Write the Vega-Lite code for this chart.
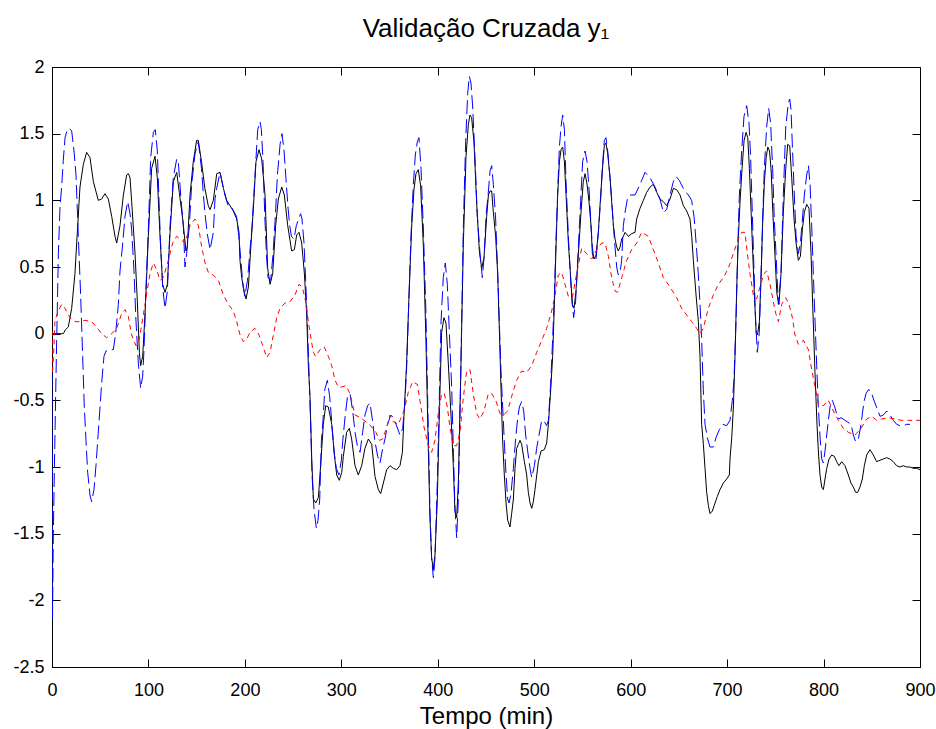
{
  "$schema": "https://vega.github.io/schema/vega-lite/v6.json",
  "width": 868,
  "height": 600,
  "autosize": "none",
  "padding": {"left": 52, "top": 67, "right": 16, "bottom": 62},
  "background": "white",
  "title": {"text": "Validação Cruzada y₁", "font": "Liberation Sans", "fontSize": 26, "fontWeight": "normal", "color": "black", "offset": 16, "anchor": "middle"},
  "config": {"view": {"stroke": "black", "strokeWidth": 1}, "axis": {"grid": false, "domainColor": "black", "tickColor": "black", "tickWidth": 1, "labelColor": "black", "labelFont": "Liberation Sans", "labelFontSize": 18, "titleFont": "Liberation Sans", "titleColor": "black"}},
  "datasets": {
    "black": [{"t":0,"v":0},{"t":5,"v":0},{"t":10,"v":0},{"t":11.7,"v":0},{"t":14,"v":0.03},{"t":16.9,"v":0.05},{"t":20.4,"v":0.19},{"t":23.8,"v":0.45},{"t":25.6,"v":0.68},{"t":29,"v":1.1},{"t":32.5,"v":1.27},{"t":35.9,"v":1.36},{"t":39.4,"v":1.32},{"t":42.9,"v":1.14},{"t":48,"v":1.0},{"t":51.5,"v":1.01},{"t":54.9,"v":1.05},{"t":58.4,"v":1.01},{"t":61.9,"v":0.88},{"t":65.3,"v":0.73},{"t":67.1,"v":0.68},{"t":70.5,"v":0.81},{"t":74,"v":1.04},{"t":77.4,"v":1.19},{"t":79.2,"v":1.2},{"t":80.9,"v":1.17},{"t":82.6,"v":0.99},{"t":86.1,"v":0.6},{"t":88.5,"v":0.24},{"t":90.6,"v":-0.14},{"t":91.9,"v":-0.24},{"t":94,"v":-0.17},{"t":96.4,"v":0.14},{"t":99.9,"v":0.73},{"t":103.3,"v":1.24},{"t":106.8,"v":1.33},{"t":109.2,"v":1.17},{"t":112,"v":0.73},{"t":114.7,"v":0.37},{"t":117.2,"v":0.31},{"t":119.6,"v":0.37},{"t":122.4,"v":0.76},{"t":125.8,"v":1.14},{"t":129.3,"v":1.21},{"t":132,"v":1.06},{"t":135.5,"v":0.86},{"t":138.9,"v":0.62},{"t":140.3,"v":0.65},{"t":143.1,"v":1.04},{"t":146.5,"v":1.29},{"t":150,"v":1.45},{"t":151.7,"v":1.45},{"t":155,"v":1.29},{"t":158.5,"v":1.09},{"t":162,"v":0.96},{"t":163.9,"v":0.93},{"t":167.3,"v":1.0},{"t":170.8,"v":1.2},{"t":174.2,"v":1.21},{"t":177.7,"v":1.09},{"t":181.1,"v":1.0},{"t":184.6,"v":0.96},{"t":188,"v":0.92},{"t":191.5,"v":0.86},{"t":193.9,"v":0.76},{"t":194.9,"v":0.55},{"t":196.7,"v":0.42},{"t":199.4,"v":0.31},{"t":201.2,"v":0.26},{"t":203.6,"v":0.35},{"t":206.4,"v":0.68},{"t":208.8,"v":0.94},{"t":211.5,"v":1.29},{"t":214.7,"v":1.38},{"t":217.4,"v":1.31},{"t":220.9,"v":1.04},{"t":223.6,"v":0.49},{"t":226.1,"v":0.37},{"t":228.8,"v":0.45},{"t":231.9,"v":0.81},{"t":234.7,"v":1.01},{"t":238.2,"v":1.1},{"t":240.9,"v":1.04},{"t":244.4,"v":0.81},{"t":248.5,"v":0.62},{"t":251.3,"v":0.63},{"t":253.7,"v":0.74},{"t":256.1,"v":0.76},{"t":258.9,"v":0.68},{"t":261.7,"v":0.45},{"t":264.1,"v":0.14},{"t":265.8,"v":-0.24},{"t":267.5,"v":-0.47},{"t":269.3,"v":-0.94},{"t":271,"v":-1.24},{"t":273.4,"v":-1.27},{"t":276.2,"v":-1.23},{"t":279,"v":-0.94},{"t":281.3,"v":-0.68},{"t":283.8,"v":-0.54},{"t":286.5,"v":-0.55},{"t":290,"v":-0.68},{"t":292.8,"v":-0.91},{"t":295.2,"v":-1.06},{"t":297.9,"v":-1.1},{"t":300.4,"v":-1.04},{"t":302.1,"v":-0.92},{"t":305.5,"v":-0.74},{"t":308.3,"v":-0.71},{"t":310.7,"v":-0.79},{"t":314.2,"v":-0.99},{"t":317.6,"v":-1.06},{"t":321.1,"v":-0.99},{"t":324.5,"v":-0.86},{"t":328,"v":-0.79},{"t":331.5,"v":-0.83},{"t":334.9,"v":-1.07},{"t":338.4,"v":-1.17},{"t":340.8,"v":-1.2},{"t":343.6,"v":-1.12},{"t":347,"v":-1.02},{"t":350.5,"v":-0.99},{"t":353.9,"v":-1.01},{"t":357.4,"v":-1.02},{"t":360.8,"v":-0.99},{"t":363.3,"v":-0.89},{"t":365,"v":-0.61},{"t":367.7,"v":-0.22},{"t":370.2,"v":0.29},{"t":372.9,"v":0.8},{"t":375.3,"v":1.08},{"t":377.4,"v":1.2},{"t":379.8,"v":1.23},{"t":382.2,"v":1.11},{"t":385,"v":0.67},{"t":387.7,"v":-0.04},{"t":390.2,"v":-0.86},{"t":391.9,"v":-1.38},{"t":393.6,"v":-1.68},{"t":395.4,"v":-1.77},{"t":397.1,"v":-1.66},{"t":399.5,"v":-1.25},{"t":401.6,"v":-0.61},{"t":404,"v":0.01},{"t":406.4,"v":0.12},{"t":408.5,"v":0.08},{"t":410.9,"v":-0.22},{"t":413.7,"v":-0.61},{"t":416.1,"v":-0.99},{"t":417.8,"v":-1.33},{"t":419.6,"v":-1.38},{"t":421.3,"v":-1.12},{"t":423.7,"v":-0.35},{"t":426.5,"v":0.67},{"t":429.2,"v":1.32},{"t":431.7,"v":1.57},{"t":433.4,"v":1.64},{"t":435.1,"v":1.62},{"t":437.5,"v":1.44},{"t":440.3,"v":0.98},{"t":443.1,"v":0.62},{"t":445.5,"v":0.49},{"t":447.9,"v":0.57},{"t":450.7,"v":0.88},{"t":452.5,"v":1.04},{"t":454.2,"v":1.07},{"t":455.9,"v":1.07},{"t":457.6,"v":0.91},{"t":460,"v":0.73},{"t":462.1,"v":0.45},{"t":463.8,"v":0.04},{"t":465.6,"v":-0.42},{"t":467.3,"v":-0.81},{"t":469,"v":-1.06},{"t":470.8,"v":-1.27},{"t":472.5,"v":-1.4},{"t":474.9,"v":-1.45},{"t":476.6,"v":-1.35},{"t":478.4,"v":-1.24},{"t":480.1,"v":-1.01},{"t":481.8,"v":-0.86},{"t":483.6,"v":-0.83},{"t":485.3,"v":-0.8},{"t":487,"v":-0.83},{"t":489.8,"v":-0.96},{"t":492.2,"v":-1.06},{"t":493.9,"v":-1.19},{"t":495.7,"v":-1.27},{"t":497.4,"v":-1.31},{"t":499.1,"v":-1.26},{"t":500.8,"v":-1.17},{"t":504.3,"v":-0.96},{"t":507.1,"v":-0.88},{"t":510.5,"v":-0.87},{"t":512.9,"v":-0.82},{"t":514.7,"v":-0.68},{"t":517.1,"v":-0.42},{"t":519.1,"v":-0.17},{"t":520.9,"v":0.22},{"t":522.6,"v":0.65},{"t":524.3,"v":1.04},{"t":526.1,"v":1.29},{"t":527.8,"v":1.38},{"t":529.5,"v":1.4},{"t":531.3,"v":1.29},{"t":533,"v":1.04},{"t":535.4,"v":0.68},{"t":537.8,"v":0.42},{"t":539.5,"v":0.22},{"t":541.3,"v":0.19},{"t":543.3,"v":0.32},{"t":545.8,"v":0.6},{"t":548.5,"v":0.91},{"t":550.9,"v":1.14},{"t":552.7,"v":1.2},{"t":554.8,"v":1.12},{"t":556.8,"v":0.99},{"t":558.9,"v":0.81},{"t":560.3,"v":0.6},{"t":562,"v":0.56},{"t":564.1,"v":0.59},{"t":566.5,"v":0.76},{"t":568.9,"v":1.04},{"t":570.6,"v":1.22},{"t":572.7,"v":1.41},{"t":574.4,"v":1.43},{"t":576.2,"v":1.35},{"t":578.6,"v":1.17},{"t":580.3,"v":0.99},{"t":582.1,"v":0.81},{"t":583.8,"v":0.71},{"t":585.5,"v":0.65},{"t":587.2,"v":0.62},{"t":589,"v":0.65},{"t":590.7,"v":0.71},{"t":592.4,"v":0.73},{"t":594.2,"v":0.76},{"t":597.6,"v":0.73},{"t":601.1,"v":0.75},{"t":604.5,"v":0.76},{"t":606.2,"v":0.86},{"t":609.7,"v":0.94},{"t":613.2,"v":1.0},{"t":616.6,"v":1.06},{"t":620.1,"v":1.1},{"t":623.5,"v":1.12},{"t":627,"v":1.06},{"t":630.4,"v":1.01},{"t":633.9,"v":0.99},{"t":637.3,"v":0.96},{"t":640.8,"v":1.01},{"t":644.3,"v":1.09},{"t":647.7,"v":1.08},{"t":651.2,"v":1.04},{"t":654.6,"v":0.96},{"t":658.1,"v":0.92},{"t":661.5,"v":0.86},{"t":663.3,"v":0.73},{"t":665,"v":0.55},{"t":667.8,"v":0.29},{"t":670.2,"v":0.09},{"t":671.9,"v":-0.17},{"t":673.6,"v":-0.68},{"t":675.4,"v":-0.83},{"t":677.1,"v":-1.01},{"t":678.8,"v":-1.19},{"t":680.6,"v":-1.29},{"t":682.3,"v":-1.35},{"t":684.7,"v":-1.33},{"t":687.5,"v":-1.27},{"t":689.9,"v":-1.22},{"t":692.6,"v":-1.17},{"t":696.1,"v":-1.12},{"t":699.6,"v":-1.09},{"t":702.3,"v":-1.06},{"t":703,"v":-0.94},{"t":704.8,"v":-0.78},{"t":706.5,"v":-0.55},{"t":708.2,"v":-0.17},{"t":710,"v":0.35},{"t":711.7,"v":0.73},{"t":713.4,"v":0.99},{"t":715.5,"v":1.24},{"t":717.6,"v":1.45},{"t":719.7,"v":1.51},{"t":721.4,"v":1.47},{"t":723.1,"v":1.24},{"t":724.9,"v":0.91},{"t":726.6,"v":0.6},{"t":728.3,"v":0.29},{"t":730.1,"v":0.01},{"t":731.4,"v":-0.01},{"t":733.5,"v":0.09},{"t":735.3,"v":0.45},{"t":737,"v":0.86},{"t":738.7,"v":1.14},{"t":740.5,"v":1.32},{"t":742.2,"v":1.4},{"t":744,"v":1.37},{"t":745.7,"v":1.22},{"t":747.4,"v":0.91},{"t":749.2,"v":0.65},{"t":751.6,"v":0.3},{"t":753.8,"v":0.22},{"t":755.9,"v":0.45},{"t":758.3,"v":0.91},{"t":760.8,"v":1.24},{"t":762.8,"v":1.42},{"t":764.9,"v":1.41},{"t":767,"v":1.17},{"t":769.4,"v":0.86},{"t":771.5,"v":0.68},{"t":773.9,"v":0.55},{"t":776,"v":0.58},{"t":778,"v":0.78},{"t":780.1,"v":0.91},{"t":782.5,"v":0.97},{"t":784.9,"v":0.94},{"t":787,"v":0.6},{"t":789.1,"v":0.14},{"t":791.1,"v":-0.29},{"t":793.2,"v":-0.68},{"t":794.6,"v":-0.88},{"t":796.3,"v":-1.06},{"t":798.1,"v":-1.15},{"t":799.8,"v":-1.17},{"t":801.5,"v":-1.09},{"t":803.3,"v":-1.01},{"t":805.7,"v":-0.94},{"t":808.4,"v":-0.91},{"t":811.2,"v":-0.92},{"t":813.6,"v":-0.96},{"t":816,"v":-0.99},{"t":818.8,"v":-0.96},{"t":822.2,"v":-0.99},{"t":825.7,"v":-1.06},{"t":828.4,"v":-1.12},{"t":830.9,"v":-1.15},{"t":833.3,"v":-1.19},{"t":835.4,"v":-1.19},{"t":837.8,"v":-1.15},{"t":840.2,"v":-1.09},{"t":842.3,"v":-0.99},{"t":844.7,"v":-0.91},{"t":848.1,"v":-0.87},{"t":851.6,"v":-0.91},{"t":855,"v":-0.96},{"t":858.5,"v":-0.95},{"t":861.9,"v":-0.94},{"t":865.4,"v":-0.93},{"t":868.8,"v":-0.94},{"t":872.3,"v":-0.96},{"t":875.7,"v":-0.99},{"t":879.2,"v":-1.0},{"t":882.6,"v":-0.99},{"t":886.1,"v":-1.0},{"t":889.5,"v":-1.0},{"t":893,"v":-1.01},{"t":896.4,"v":-1.01},{"t":900,"v":-1.02}],
    "blue": [{"t":0,"v":-0.3},{"t":0.5,"v":-2.15},{"t":1.4,"v":-1.5},{"t":2.5,"v":-1.0},{"t":4.2,"v":-0.3},{"t":6.6,"v":0.6},{"t":8.3,"v":0.95},{"t":10,"v":1.1},{"t":11.7,"v":1.3},{"t":13.5,"v":1.47},{"t":15.9,"v":1.53},{"t":18,"v":1.54},{"t":20.4,"v":1.52},{"t":22.8,"v":1.37},{"t":24.9,"v":1.19},{"t":27.3,"v":0.73},{"t":29.7,"v":0.29},{"t":31.8,"v":-0.17},{"t":33.5,"v":-0.55},{"t":35.3,"v":-0.81},{"t":37,"v":-1.04},{"t":39.4,"v":-1.21},{"t":41.1,"v":-1.26},{"t":43.5,"v":-1.17},{"t":45.6,"v":-0.99},{"t":47.3,"v":-0.81},{"t":49.8,"v":-0.55},{"t":51.5,"v":-0.37},{"t":53.9,"v":-0.17},{"t":56,"v":-0.13},{"t":60,"v":-0.12},{"t":63.6,"v":-0.12},{"t":66,"v":0.0},{"t":68.8,"v":0.22},{"t":70.5,"v":0.47},{"t":73,"v":0.65},{"t":75.7,"v":0.88},{"t":78.5,"v":0.99},{"t":80.9,"v":0.9},{"t":82.6,"v":0.78},{"t":85,"v":0.47},{"t":87.1,"v":0.09},{"t":89.5,"v":-0.22},{"t":91.9,"v":-0.41},{"t":94,"v":-0.32},{"t":95.4,"v":-0.12},{"t":97.5,"v":0.35},{"t":99.9,"v":0.78},{"t":102.3,"v":1.32},{"t":105.1,"v":1.51},{"t":107.1,"v":1.53},{"t":109.2,"v":1.37},{"t":112,"v":0.78},{"t":114.7,"v":0.35},{"t":117.2,"v":0.19},{"t":119.6,"v":0.32},{"t":122.4,"v":0.81},{"t":125.8,"v":1.17},{"t":129.3,"v":1.31},{"t":131,"v":1.29},{"t":133.4,"v":1.04},{"t":136.2,"v":0.81},{"t":137.9,"v":0.5},{"t":139.6,"v":0.6},{"t":142.4,"v":0.81},{"t":144.8,"v":1.12},{"t":148.3,"v":1.35},{"t":151.7,"v":1.44},{"t":155,"v":1.24},{"t":156.9,"v":1.05},{"t":158.5,"v":0.91},{"t":161,"v":0.75},{"t":163.9,"v":0.63},{"t":167.3,"v":0.76},{"t":169,"v":1.01},{"t":170.8,"v":1.09},{"t":174.2,"v":1.21},{"t":179.3,"v":1.04},{"t":182.6,"v":0.96},{"t":186,"v":0.95},{"t":191.3,"v":0.88},{"t":193.7,"v":0.73},{"t":195.8,"v":0.55},{"t":198.2,"v":0.35},{"t":199.9,"v":0.28},{"t":202.7,"v":0.4},{"t":205,"v":0.6},{"t":207.5,"v":0.81},{"t":210.5,"v":1.19},{"t":213.3,"v":1.53},{"t":215.7,"v":1.59},{"t":217.1,"v":1.53},{"t":218.8,"v":1.29},{"t":220.5,"v":0.91},{"t":222.3,"v":0.6},{"t":224,"v":0.42},{"t":226.8,"v":0.4},{"t":229.2,"v":0.6},{"t":231.6,"v":0.88},{"t":233.7,"v":1.19},{"t":236.5,"v":1.42},{"t":238.5,"v":1.5},{"t":240.6,"v":1.37},{"t":243,"v":1.12},{"t":244.8,"v":0.94},{"t":246.5,"v":0.81},{"t":248.2,"v":0.73},{"t":250.9,"v":0.71},{"t":253.3,"v":0.81},{"t":255.7,"v":0.86},{"t":257.8,"v":0.9},{"t":259.2,"v":0.86},{"t":261.3,"v":0.68},{"t":263,"v":0.4},{"t":264.7,"v":0.09},{"t":266.5,"v":-0.29},{"t":268.2,"v":-0.68},{"t":269.6,"v":-1.06},{"t":271.7,"v":-1.32},{"t":274.1,"v":-1.46},{"t":275.8,"v":-1.4},{"t":277.6,"v":-1.24},{"t":279.3,"v":-0.81},{"t":281,"v":-0.65},{"t":282.8,"v":-0.42},{"t":285.5,"v":-0.35},{"t":287.9,"v":-0.47},{"t":290.3,"v":-0.68},{"t":292.4,"v":-0.88},{"t":294.8,"v":-1.01},{"t":297.5,"v":-1.06},{"t":300,"v":-0.95},{"t":301.4,"v":-0.81},{"t":303.8,"v":-0.63},{"t":306.2,"v":-0.48},{"t":309,"v":-0.45},{"t":311.8,"v":-0.58},{"t":314.2,"v":-0.74},{"t":316.6,"v":-0.84},{"t":319.4,"v":-0.89},{"t":322.1,"v":-0.74},{"t":324.5,"v":-0.61},{"t":327.3,"v":-0.54},{"t":329.7,"v":-0.52},{"t":332.5,"v":-0.66},{"t":334.9,"v":-0.81},{"t":337.7,"v":-0.92},{"t":340.1,"v":-0.97},{"t":342.9,"v":-0.86},{"t":345.3,"v":-0.79},{"t":348,"v":-0.68},{"t":351.2,"v":-0.61},{"t":353.9,"v":-0.63},{"t":356.7,"v":-0.68},{"t":360.8,"v":-0.76},{"t":363.6,"v":-0.71},{"t":366,"v":-0.51},{"t":367.7,"v":-0.26},{"t":370.2,"v":0.29},{"t":372.2,"v":0.73},{"t":374.6,"v":1.11},{"t":376.7,"v":1.34},{"t":378.8,"v":1.44},{"t":380.5,"v":1.47},{"t":382.6,"v":1.24},{"t":385,"v":0.8},{"t":387.7,"v":0.16},{"t":390.2,"v":-0.74},{"t":391.9,"v":-1.33},{"t":393.6,"v":-1.68},{"t":395.4,"v":-1.83},{"t":397.1,"v":-1.68},{"t":399.5,"v":-1.12},{"t":401.6,"v":-0.48},{"t":403.3,"v":0.08},{"t":405.7,"v":0.42},{"t":407.8,"v":0.53},{"t":409.9,"v":0.37},{"t":412,"v":0.01},{"t":414.4,"v":-0.4},{"t":416.1,"v":-0.86},{"t":417.8,"v":-1.3},{"t":419.6,"v":-1.53},{"t":421.3,"v":-1.25},{"t":423.7,"v":-0.35},{"t":426.5,"v":0.8},{"t":428.9,"v":1.44},{"t":431,"v":1.8},{"t":432.7,"v":1.93},{"t":434.4,"v":1.88},{"t":436.2,"v":1.7},{"t":438.6,"v":1.32},{"t":441,"v":0.88},{"t":443.8,"v":0.6},{"t":446.2,"v":0.42},{"t":448.3,"v":0.6},{"t":450,"v":0.88},{"t":452.4,"v":1.06},{"t":454.2,"v":1.22},{"t":455.9,"v":1.26},{"t":457.6,"v":1.12},{"t":460,"v":0.86},{"t":462.1,"v":0.47},{"t":463.8,"v":0.09},{"t":465.6,"v":-0.29},{"t":467.3,"v":-0.55},{"t":469,"v":-0.81},{"t":470.8,"v":-1.06},{"t":472.5,"v":-1.24},{"t":473.9,"v":-1.27},{"t":475.9,"v":-1.2},{"t":478.4,"v":-1.01},{"t":480.8,"v":-0.78},{"t":482.9,"v":-0.63},{"t":484.6,"v":-0.55},{"t":487,"v":-0.51},{"t":489.1,"v":-0.58},{"t":491.1,"v":-0.76},{"t":493.2,"v":-0.88},{"t":495.7,"v":-1.01},{"t":497.4,"v":-1.08},{"t":500.2,"v":-0.99},{"t":502.5,"v":-0.86},{"t":505,"v":-0.76},{"t":507.8,"v":-0.65},{"t":510.5,"v":-0.66},{"t":512.9,"v":-0.69},{"t":514.7,"v":-0.65},{"t":517.1,"v":-0.37},{"t":519.1,"v":-0.04},{"t":520.9,"v":0.29},{"t":522.6,"v":0.71},{"t":524.3,"v":1.06},{"t":526.1,"v":1.4},{"t":527.8,"v":1.55},{"t":529.5,"v":1.64},{"t":531.3,"v":1.53},{"t":533,"v":1.14},{"t":535.4,"v":0.73},{"t":537.8,"v":0.4},{"t":539.5,"v":0.22},{"t":540.9,"v":0.12},{"t":542.9,"v":0.24},{"t":545.8,"v":0.65},{"t":548.1,"v":0.99},{"t":550.2,"v":1.29},{"t":552.7,"v":1.37},{"t":554.8,"v":1.29},{"t":556.8,"v":1.09},{"t":558.9,"v":0.81},{"t":560.3,"v":0.65},{"t":562,"v":0.55},{"t":564.1,"v":0.56},{"t":566.5,"v":0.76},{"t":568.9,"v":1.01},{"t":570.6,"v":1.24},{"t":572.7,"v":1.45},{"t":574.4,"v":1.47},{"t":576.2,"v":1.37},{"t":578.6,"v":1.17},{"t":580.3,"v":1.01},{"t":582.1,"v":0.81},{"t":583.8,"v":0.65},{"t":585.5,"v":0.5},{"t":587.2,"v":0.44},{"t":589,"v":0.46},{"t":590.7,"v":0.55},{"t":592.4,"v":0.81},{"t":594.2,"v":0.91},{"t":596.6,"v":1.01},{"t":599.3,"v":1.04},{"t":604.5,"v":1.04},{"t":609.7,"v":1.12},{"t":614.9,"v":1.21},{"t":620,"v":1.17},{"t":625.2,"v":1.1},{"t":630.4,"v":1.01},{"t":633.9,"v":0.91},{"t":637.3,"v":0.93},{"t":640.8,"v":1.04},{"t":644.2,"v":1.14},{"t":647,"v":1.18},{"t":650.4,"v":1.15},{"t":654.6,"v":1.09},{"t":659.8,"v":1.04},{"t":663.2,"v":1.0},{"t":665.7,"v":0.88},{"t":668.4,"v":0.63},{"t":670.1,"v":0.45},{"t":671.9,"v":0.22},{"t":673.6,"v":-0.04},{"t":675.3,"v":-0.42},{"t":677.1,"v":-0.68},{"t":679.5,"v":-0.78},{"t":682.2,"v":-0.85},{"t":685.7,"v":-0.85},{"t":688.5,"v":-0.78},{"t":691.9,"v":-0.72},{"t":695.4,"v":-0.68},{"t":699.5,"v":-0.69},{"t":703,"v":-0.65},{"t":705.4,"v":-0.5},{"t":707.1,"v":-0.35},{"t":709.2,"v":0.09},{"t":710.9,"v":0.6},{"t":712.7,"v":1.04},{"t":715.1,"v":1.37},{"t":717.5,"v":1.63},{"t":720.3,"v":1.71},{"t":722.7,"v":1.58},{"t":724.4,"v":1.32},{"t":726.1,"v":0.91},{"t":727.9,"v":0.47},{"t":729.6,"v":0.09},{"t":731.3,"v":-0.14},{"t":733.4,"v":0.01},{"t":735.1,"v":0.42},{"t":736.9,"v":0.86},{"t":738.6,"v":1.24},{"t":741,"v":1.55},{"t":743.1,"v":1.69},{"t":745.1,"v":1.58},{"t":747.2,"v":1.24},{"t":748.9,"v":0.86},{"t":750.7,"v":0.6},{"t":753.1,"v":0.22},{"t":755.9,"v":0.45},{"t":758.3,"v":1.04},{"t":760.8,"v":1.55},{"t":763.5,"v":1.73},{"t":764.9,"v":1.76},{"t":766.3,"v":1.68},{"t":767.7,"v":1.4},{"t":769.7,"v":1.04},{"t":771.5,"v":0.73},{"t":773.9,"v":0.6},{"t":776,"v":0.68},{"t":778.1,"v":0.86},{"t":780.1,"v":1.04},{"t":782.5,"v":1.19},{"t":784.3,"v":1.26},{"t":786,"v":1.12},{"t":787.7,"v":0.81},{"t":789.4,"v":0.45},{"t":791.2,"v":0.09},{"t":792.9,"v":-0.24},{"t":794.6,"v":-0.55},{"t":796.4,"v":-0.78},{"t":798.1,"v":-0.94},{"t":799.8,"v":-0.97},{"t":801.5,"v":-0.88},{"t":803.3,"v":-0.76},{"t":805,"v":-0.65},{"t":806.7,"v":-0.55},{"t":809.1,"v":-0.5},{"t":811.2,"v":-0.54},{"t":813.6,"v":-0.6},{"t":816,"v":-0.64},{"t":818.1,"v":-0.63},{"t":828.5,"v":-0.68},{"t":830.9,"v":-0.76},{"t":833.3,"v":-0.81},{"t":836.1,"v":-0.79},{"t":838.9,"v":-0.68},{"t":840.6,"v":-0.58},{"t":842.3,"v":-0.5},{"t":844,"v":-0.45},{"t":846.5,"v":-0.42},{"t":849.2,"v":-0.43},{"t":851.7,"v":-0.49},{"t":858.6,"v":-0.62},{"t":862,"v":-0.61},{"t":865.5,"v":-0.58},{"t":868.9,"v":-0.61},{"t":872.4,"v":-0.65},{"t":875.8,"v":-0.68},{"t":879.3,"v":-0.69},{"t":882.7,"v":-0.69},{"t":886.2,"v":-0.68},{"t":889.7,"v":-0.68}],
    "red": [{"t":0,"v":0.02},{"t":0.5,"v":-0.3},{"t":2,"v":-0.1},{"t":3.1,"v":0.1},{"t":6.6,"v":0.17},{"t":10,"v":0.22},{"t":13.5,"v":0.19},{"t":18.7,"v":0.12},{"t":23.8,"v":0.09},{"t":29,"v":0.09},{"t":34.2,"v":0.1},{"t":41.1,"v":0.09},{"t":46.3,"v":0.05},{"t":51.5,"v":0.0},{"t":56.7,"v":-0.03},{"t":61.9,"v":0.0},{"t":67.1,"v":0.04},{"t":72.2,"v":0.15},{"t":75.7,"v":0.18},{"t":79.1,"v":0.13},{"t":82.6,"v":-0.01},{"t":87.1,"v":-0.09},{"t":90.5,"v":-0.04},{"t":94.7,"v":0.14},{"t":98.2,"v":0.3},{"t":101.6,"v":0.45},{"t":105.1,"v":0.53},{"t":108.5,"v":0.48},{"t":112,"v":0.4},{"t":115.4,"v":0.42},{"t":120.6,"v":0.55},{"t":125.1,"v":0.68},{"t":129.3,"v":0.73},{"t":134.4,"v":0.7},{"t":137.9,"v":0.68},{"t":143.1,"v":0.81},{"t":148.3,"v":0.86},{"t":151.8,"v":0.81},{"t":155.2,"v":0.65},{"t":158.7,"v":0.53},{"t":162.1,"v":0.46},{"t":167.3,"v":0.44},{"t":172.5,"v":0.4},{"t":177.7,"v":0.29},{"t":182.9,"v":0.22},{"t":188,"v":0.17},{"t":191.5,"v":0.09},{"t":195,"v":-0.01},{"t":198.4,"v":-0.06},{"t":201.9,"v":-0.04},{"t":205.3,"v":0.01},{"t":210.5,"v":0.04},{"t":214.7,"v":-0.01},{"t":218.5,"v":-0.09},{"t":222.6,"v":-0.18},{"t":226.1,"v":-0.14},{"t":229.5,"v":-0.01},{"t":233,"v":0.12},{"t":236.4,"v":0.19},{"t":241.6,"v":0.23},{"t":246.8,"v":0.24},{"t":252,"v":0.29},{"t":256.1,"v":0.37},{"t":259.6,"v":0.35},{"t":263,"v":0.24},{"t":265.8,"v":0.09},{"t":268.6,"v":-0.04},{"t":271,"v":-0.14},{"t":273.4,"v":-0.17},{"t":277.9,"v":-0.12},{"t":282.4,"v":-0.1},{"t":286.5,"v":-0.17},{"t":290,"v":-0.24},{"t":293.5,"v":-0.35},{"t":296.9,"v":-0.4},{"t":300.5,"v":-0.4},{"t":304.8,"v":-0.39},{"t":309,"v":-0.45},{"t":314.2,"v":-0.61},{"t":320,"v":-0.63},{"t":329,"v":-0.68},{"t":335.9,"v":-0.74},{"t":339.4,"v":-0.8},{"t":342.8,"v":-0.79},{"t":346.3,"v":-0.72},{"t":350.4,"v":-0.61},{"t":353.9,"v":-0.66},{"t":359,"v":-0.68},{"t":365,"v":-0.58},{"t":369.4,"v":-0.44},{"t":373.9,"v":-0.36},{"t":378.8,"v":-0.38},{"t":381.5,"v":-0.5},{"t":385.7,"v":-0.7},{"t":390.2,"v":-0.84},{"t":393.6,"v":-0.89},{"t":397.1,"v":-0.8},{"t":400.5,"v":-0.6},{"t":404,"v":-0.45},{"t":406.8,"v":-0.45},{"t":409.9,"v":-0.55},{"t":412.6,"v":-0.7},{"t":416.1,"v":-0.84},{"t":419.6,"v":-0.84},{"t":423,"v":-0.74},{"t":426.5,"v":-0.48},{"t":429.9,"v":-0.28},{"t":433.4,"v":-0.27},{"t":436.8,"v":-0.45},{"t":440.3,"v":-0.6},{"t":443.8,"v":-0.64},{"t":447.9,"v":-0.58},{"t":452.4,"v":-0.45},{"t":455.9,"v":-0.45},{"t":460.1,"v":-0.5},{"t":464.6,"v":-0.6},{"t":468,"v":-0.61},{"t":472.5,"v":-0.58},{"t":476.6,"v":-0.47},{"t":481.8,"v":-0.35},{"t":487,"v":-0.28},{"t":492.2,"v":-0.29},{"t":497.4,"v":-0.24},{"t":502.6,"v":-0.14},{"t":507.8,"v":-0.05},{"t":512.9,"v":0.04},{"t":518.1,"v":0.17},{"t":521.6,"v":0.29},{"t":525,"v":0.44},{"t":528.5,"v":0.46},{"t":531.9,"v":0.37},{"t":535.4,"v":0.28},{"t":539.5,"v":0.27},{"t":544,"v":0.45},{"t":549.2,"v":0.64},{"t":554.4,"v":0.6},{"t":559.6,"v":0.56},{"t":564.8,"v":0.63},{"t":570,"v":0.68},{"t":573.4,"v":0.68},{"t":576.9,"v":0.58},{"t":580.3,"v":0.42},{"t":583.8,"v":0.32},{"t":586.5,"v":0.31},{"t":590.7,"v":0.42},{"t":595.9,"v":0.55},{"t":601,"v":0.63},{"t":606.2,"v":0.68},{"t":611.4,"v":0.76},{"t":618.3,"v":0.73},{"t":623.5,"v":0.63},{"t":628.7,"v":0.53},{"t":633.9,"v":0.42},{"t":640.8,"v":0.35},{"t":647.7,"v":0.27},{"t":652.9,"v":0.19},{"t":658.1,"v":0.14},{"t":663.2,"v":0.09},{"t":668.4,"v":0.04},{"t":671.9,"v":0.0},{"t":675.3,"v":0.04},{"t":680.5,"v":0.19},{"t":685.7,"v":0.29},{"t":690.9,"v":0.37},{"t":696.1,"v":0.42},{"t":701.3,"v":0.49},{"t":706.4,"v":0.6},{"t":711.6,"v":0.71},{"t":715.1,"v":0.76},{"t":718.5,"v":0.76},{"t":721,"v":0.6},{"t":723.7,"v":0.45},{"t":727.2,"v":0.29},{"t":730.6,"v":0.26},{"t":734.8,"v":0.37},{"t":738.2,"v":0.45},{"t":741,"v":0.47},{"t":744.5,"v":0.37},{"t":747.9,"v":0.24},{"t":750.5,"v":0.15},{"t":753.2,"v":0.09},{"t":756.6,"v":0.22},{"t":760.8,"v":0.27},{"t":764.2,"v":0.22},{"t":767.7,"v":0.12},{"t":770.4,"v":-0.01},{"t":773.9,"v":-0.08},{"t":779.1,"v":-0.05},{"t":784.3,"v":-0.12},{"t":787.7,"v":-0.27},{"t":791.2,"v":-0.4},{"t":794.6,"v":-0.53},{"t":799.8,"v":-0.54},{"t":805,"v":-0.5},{"t":810.2,"v":-0.58},{"t":815.4,"v":-0.65},{"t":820.5,"v":-0.71},{"t":825.7,"v":-0.74},{"t":832.6,"v":-0.76},{"t":838.9,"v":-0.71},{"t":844.7,"v":-0.64},{"t":849.9,"v":-0.62},{"t":855.1,"v":-0.65},{"t":860.3,"v":-0.64},{"t":867.2,"v":-0.63},{"t":874.1,"v":-0.64},{"t":881,"v":-0.65},{"t":888,"v":-0.65},{"t":900,"v":-0.65}]
  },
  "resolve": {"scale": {"x": "independent", "y": "independent"}, "axis": {"x": "independent", "y": "independent"}},
  "layer": [
    {
      "data": {"name": "black"},
      "mark": {"type": "line", "color": "black", "strokeWidth": 1, "clip": true},
      "encoding": {
        "x": {"field": "t", "type": "quantitative", "scale": {"domain": [0, 900], "nice": false, "zero": false},
              "axis": {"orient": "bottom", "values": [0,100,200,300,400,500,600,700,800,900], "tickSize": -8, "labelPadding": 22, "title": "Tempo (min)", "titleFontSize": 24, "titleFontWeight": "normal", "titlePadding": 5, "labelFlush": false}},
        "y": {"field": "v", "type": "quantitative", "scale": {"domain": [-2.5, 2], "nice": false, "zero": false},
              "axis": {"orient": "left", "values": [-2.5,-2,-1.5,-1,-0.5,0,0.5,1,1.5,2], "tickSize": -8, "labelPadding": 16, "title": null, "labelExpr": "replace(format(datum.value, '~g'), '\u2212', '-')", "labelFlush": false}},
        "order": {"field": "t", "type": "quantitative"}
      }
    },
    {
      "data": {"name": "blue"},
      "mark": {"type": "line", "color": "#0000ff", "strokeWidth": 1, "strokeDash": [14, 5], "clip": true},
      "encoding": {
        "x": {"field": "t", "type": "quantitative", "scale": {"domain": [0, 900], "nice": false, "zero": false},
              "axis": {"orient": "top", "values": [0,100,200,300,400,500,600,700,800,900], "tickSize": -8, "labels": false, "title": null}},
        "y": {"field": "v", "type": "quantitative", "scale": {"domain": [-2.5, 2], "nice": false, "zero": false},
              "axis": {"orient": "right", "values": [-2.5,-2,-1.5,-1,-0.5,0,0.5,1,1.5,2], "tickSize": -8, "labels": false, "title": null}},
        "order": {"field": "t", "type": "quantitative"}
      }
    },
    {
      "data": {"name": "red"},
      "mark": {"type": "line", "color": "#ff0000", "strokeWidth": 1, "strokeDash": [5, 4], "clip": true},
      "encoding": {
        "x": {"field": "t", "type": "quantitative", "scale": {"domain": [0, 900], "nice": false, "zero": false}, "axis": null},
        "y": {"field": "v", "type": "quantitative", "scale": {"domain": [-2.5, 2], "nice": false, "zero": false}, "axis": null},
        "order": {"field": "t", "type": "quantitative"}
      }
    }
  ]
}
